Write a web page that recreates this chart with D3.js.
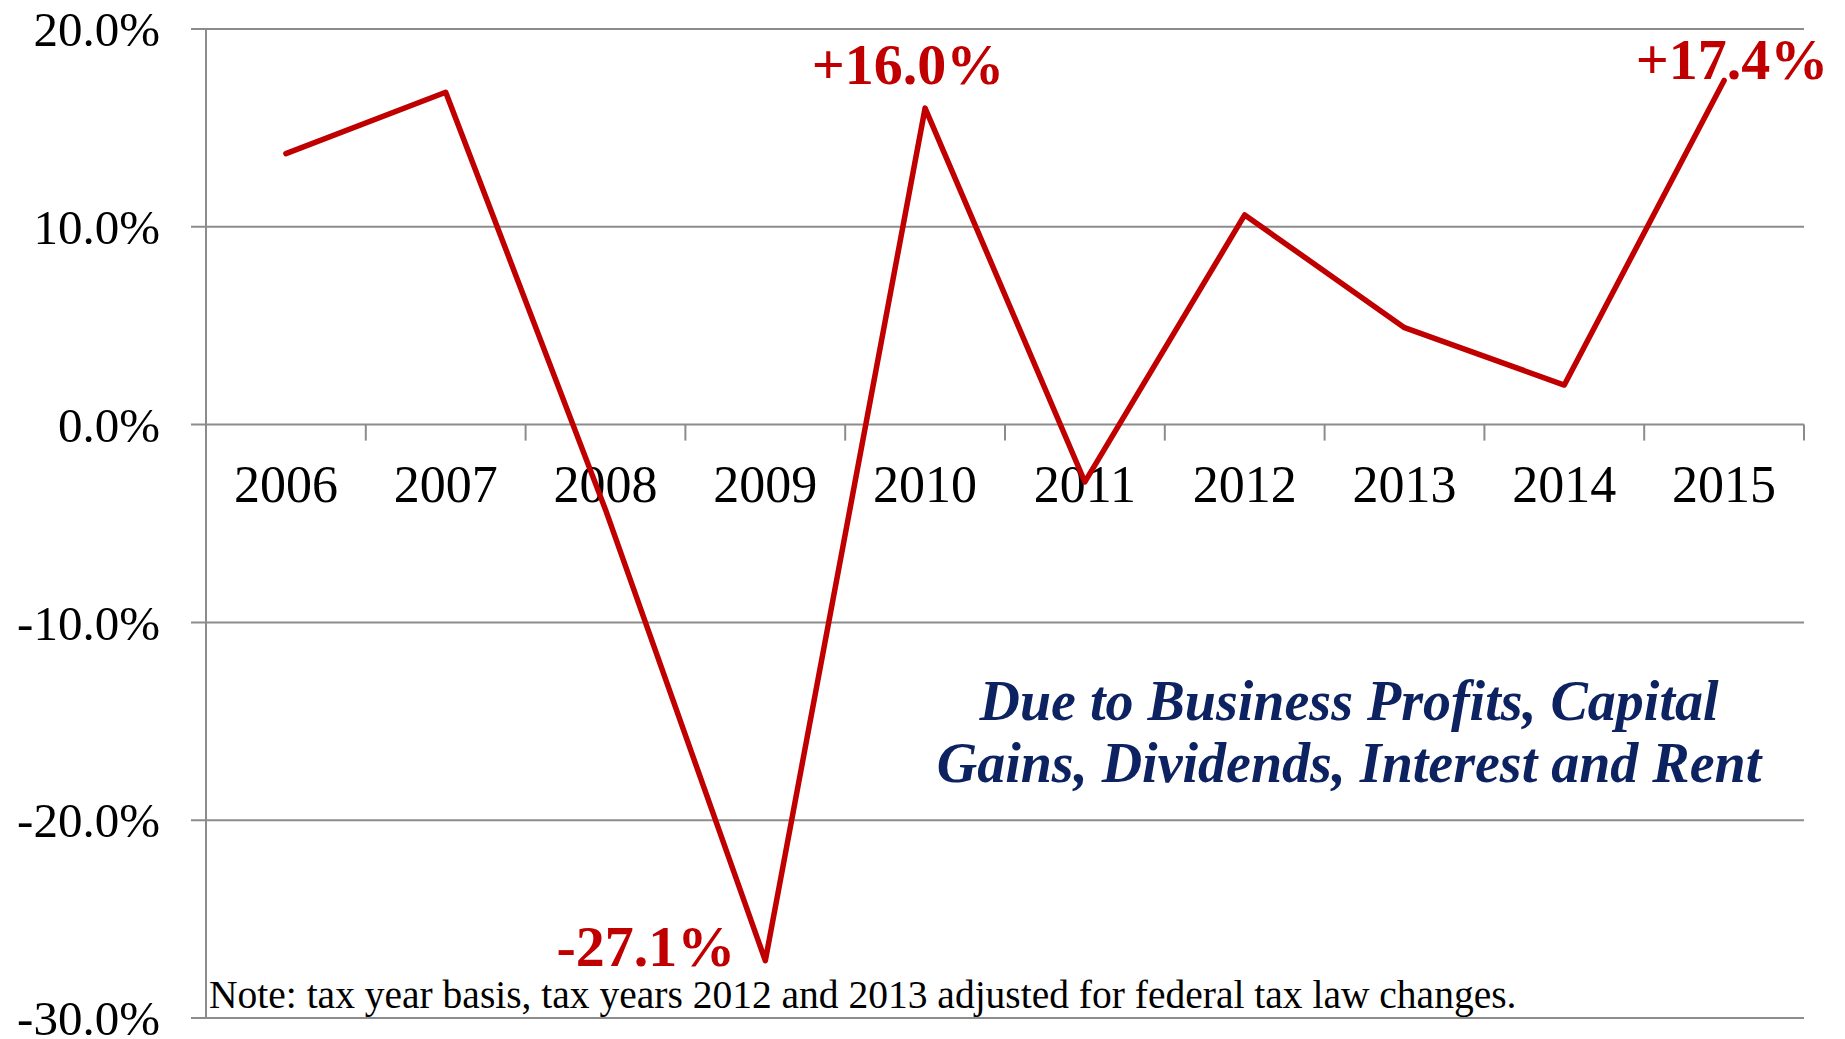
<!DOCTYPE html>
<html><head><meta charset="utf-8">
<script src="https://cdn.jsdelivr.net/npm/d3@7"></script>
<style>html,body{margin:0;padding:0;background:#fff;}</style>
</head><body>
<svg id="c" width="1845" height="1039"></svg>
<script>
const years = ["2006","2007","2008","2009","2010","2011","2012","2013","2014","2015"];
const growth = [13.7, 16.8, -4.3, -27.1, 16.0, -2.9, 10.6, 4.9, 2.0, 17.4];
const yTicks = [20, 10, 0, -10, -20, -30];
const callouts = [
  {year:"2010", text:"+16.0%"},
  {year:"2015", text:"+17.4%"},
  {year:"2009", text:"-27.1%"}
];
const subtitle = ["Due to Business Profits, Capital", "Gains, Dividends, Interest and Rent"];
const note = "Note: tax year basis, tax years 2012 and 2013 adjusted for federal tax law changes.";

const svg = d3.select("#c");
const L = 206, R = 1804;
const x = d3.scaleBand().domain(years).range([L, R]).padding(0);
const y = d3.scaleLinear().domain([-30, 20]).range([1018, 29]);
const grid = "#8c8c8c";
const red = "#c00000";
const serif = "'Liberation Serif', 'Times New Roman', serif";

// gridlines + left ticks
svg.append("g").selectAll("line").data(yTicks).join("line")
  .attr("x1", L - 15).attr("x2", R)
  .attr("y1", d => y(d)).attr("y2", d => y(d))
  .attr("stroke", grid).attr("stroke-width", 2);

// y labels
svg.append("g").selectAll("text").data(yTicks).join("text")
  .attr("x", 160).attr("y", d => y(d))
  .attr("dy", "0.35em")
  .attr("text-anchor", "end")
  .attr("font-family", serif).attr("font-size", 49).attr("fill", "#000")
  .text(d => d3.format(".1f")(d).replace("\u2212", "-") + "%");

// vertical axis
svg.append("line").attr("x1", L).attr("x2", L).attr("y1", y(20)).attr("y2", y(-30))
  .attr("stroke", grid).attr("stroke-width", 2);

// category ticks at band boundaries on zero line
const bounds = years.map(d => x(d)).concat([R]);
svg.append("g").selectAll("line").data(bounds).join("line")
  .attr("x1", d => d).attr("x2", d => d)
  .attr("y1", y(0)).attr("y2", y(0) + 16)
  .attr("stroke", grid).attr("stroke-width", 2);

// category labels
svg.append("g").selectAll("text").data(years).join("text")
  .attr("x", d => x(d) + x.bandwidth() / 2).attr("y", 502)
  .attr("text-anchor", "middle")
  .attr("font-family", serif).attr("font-size", 52).attr("fill", "#000")
  .text(d => d);

// line
const line = d3.line().x((d, i) => x(years[i]) + x.bandwidth() / 2).y(d => y(d));
svg.append("path").datum(growth).attr("d", line)
  .attr("fill", "none").attr("stroke", red).attr("stroke-width", 5.5)
  .attr("stroke-linejoin", "round").attr("stroke-linecap", "round");

// callouts
const cpos = {"2010": {dx: -17, yy: 84, anchor: "middle"},
              "2015": {dx: 8, yy: 79, anchor: "middle"},
              "2009": {dx: -30, yy: 966, anchor: "end"}};
svg.append("g").selectAll("text").data(callouts).join("text")
  .attr("x", d => x(d.year) + x.bandwidth() / 2 + cpos[d.year].dx)
  .attr("y", d => cpos[d.year].yy)
  .attr("text-anchor", d => cpos[d.year].anchor)
  .attr("font-family", serif).attr("font-weight", "bold").attr("font-size", 58)
  .attr("fill", red)
  .text(d => d.text);

// subtitle
svg.append("g").selectAll("text").data(subtitle).join("text")
  .attr("x", 1349).attr("y", (d, i) => 720 + i * 62)
  .attr("text-anchor", "middle")
  .attr("font-family", serif).attr("font-weight", "bold").attr("font-style", "italic")
  .attr("font-size", 56).attr("fill", "#0d2260")
  .text(d => d);

// note
svg.append("text").attr("x", 209).attr("y", 1008)
  .attr("font-family", serif).attr("font-size", 39.5).attr("fill", "#000")
  .text(note);
</script>
</body></html>
